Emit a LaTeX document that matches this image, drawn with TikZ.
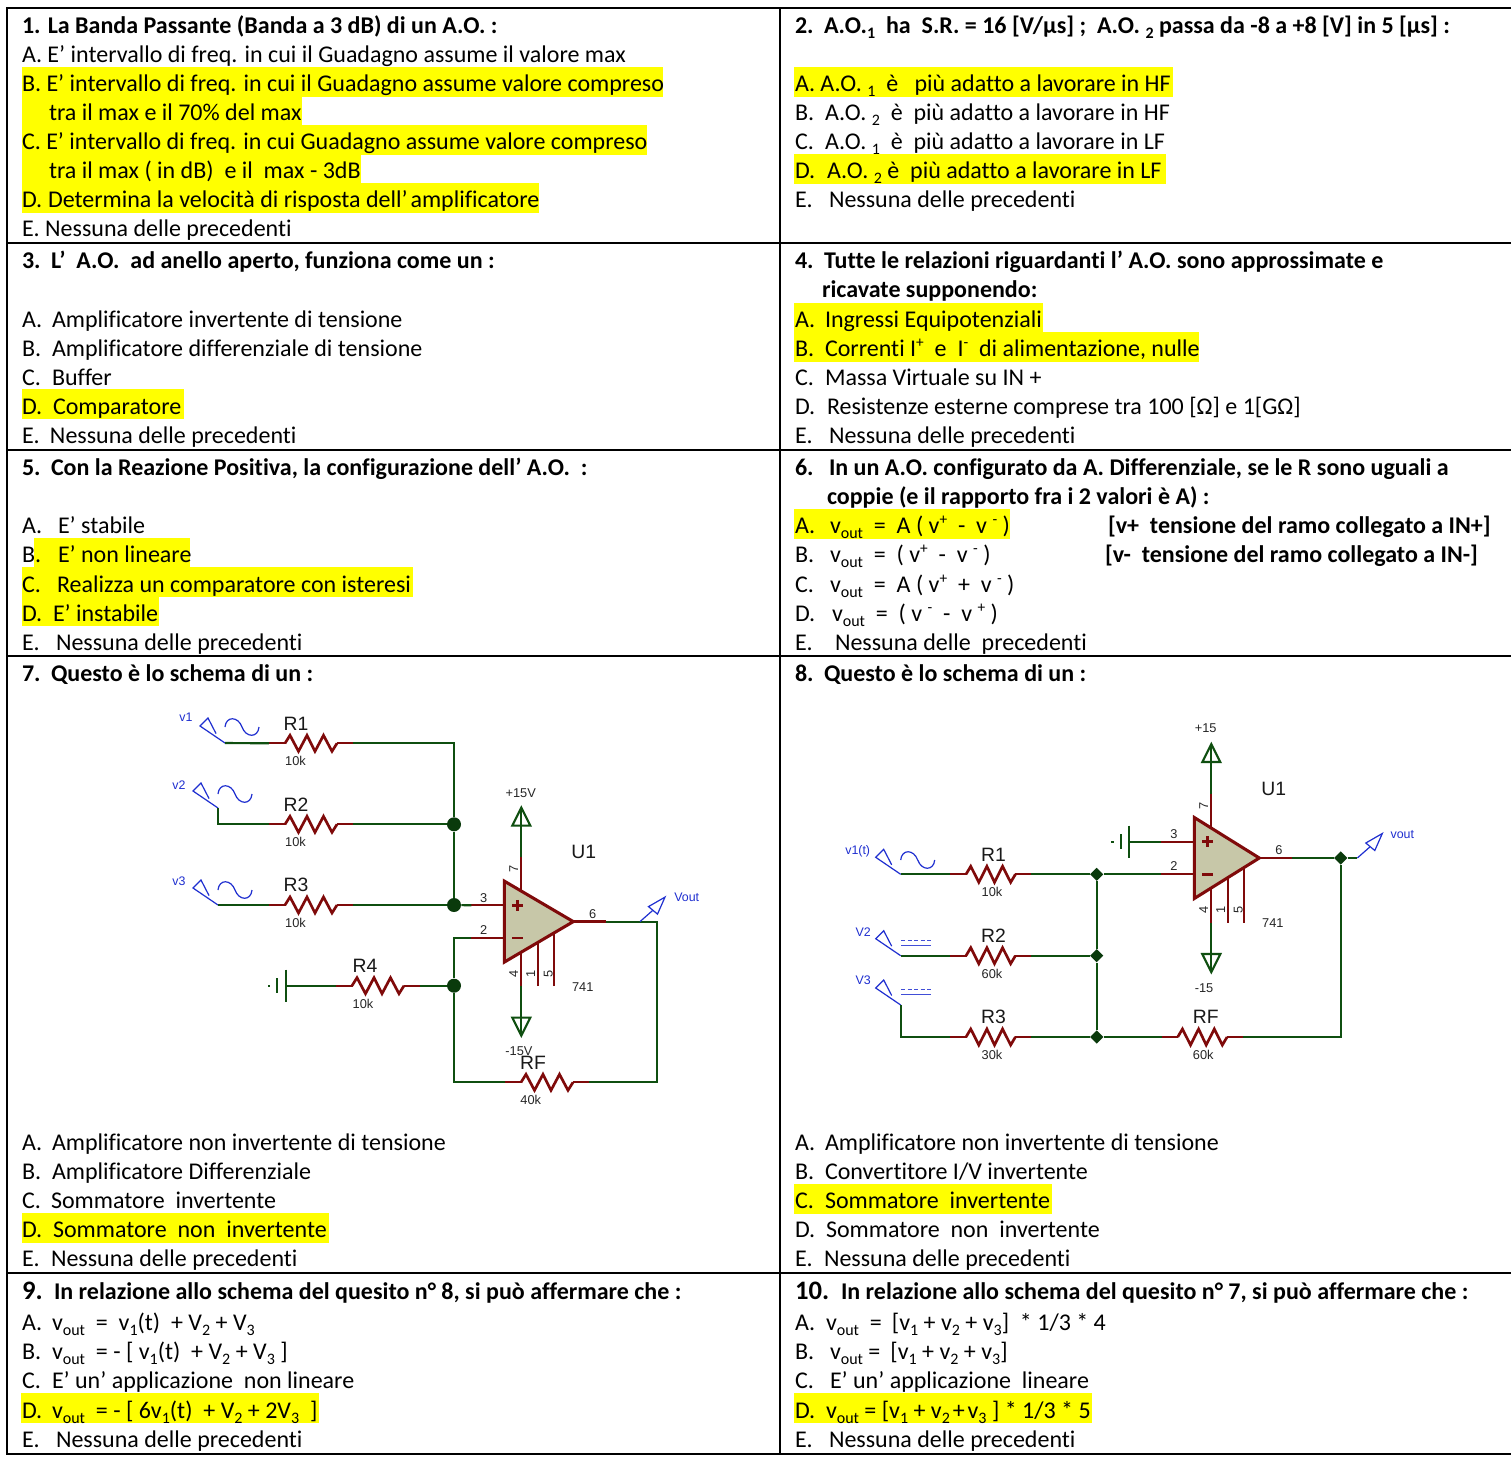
\documentclass[tikz,border=0pt]{standalone}
\usepackage{fontspec}
\usepackage{graphicx}
\setmainfont[Ligatures=NoCommon]{Carlito}
\newfontfamily\cirfont{Liberation Sans}
\usetikzlibrary{shapes.geometric}
\definecolor{wirec}{HTML}{0F4F10}
\definecolor{juncc}{HTML}{0A3A0C}
\definecolor{redc}{HTML}{7F0A0A}
\definecolor{bluec}{HTML}{1F2FD0}
\definecolor{opc}{HTML}{C7C7A8}
\definecolor{hlc}{HTML}{FFFF00}
\tikzset{
  txt/.style={anchor=base west,inner sep=0pt,outer sep=0pt,font=\fontsize{18}{20}\selectfont,text=black},
  txb/.style={txt,font=\fontsize{18}{20}\selectfont\bfseries},
  txB/.style={txt,font=\fontsize{20}{22}\selectfont\bfseries},
  grid/.style={line width=1.5pt,black},
  hlbar/.style={fill=hlc,draw=none},
  wire/.style={line width=1.6pt,wirec,line join=miter},
  redw/.style={line width=1.7pt,redc,line cap=butt},
  zig/.style={line width=2pt,redc,line join=miter},
  opbody/.style={line width=2.3pt,redc,fill=opc,line join=miter},
  bluew/.style={line width=.9pt,bluec,line join=miter},
  bigl/.style={inner sep=0pt,font=\cirfont\fontsize{14.5}{15}\selectfont,text=black!90},
  vall/.style={inner sep=0pt,font=\cirfont\fontsize{9.6}{10}\selectfont,text=black!85},
  blul/.style={inner sep=0pt,font=\cirfont\fontsize{9.3}{10}\selectfont,text=bluec},
  jdot/.style={circle,fill=juncc,inner sep=0pt,minimum size=10.5pt},
  jdia/.style={diamond,fill=juncc,inner sep=0pt,minimum size=10pt},
}
\newcounter{tn}
\newcommand\tline[4][txt]{\stepcounter{tn}\node[#1] (t\thetn) at (#2,#3+8.5) {#4};}
\newcommand\hlbar[3]{\fill[hlbar] (#1,#3-15.7) rectangle (#2,#3+14);}
\newcommand\sbs[1]{\raisebox{-.22em}{\fontsize{12}{13}\selectfont #1}}
\newcommand\sps[1]{\raisebox{.36em}{\fontsize{11.5}{13}\selectfont #1}}
\newcommand\vo{v\sbs{out}}
\newcommand\clab[4][vall]{\stepcounter{tn}\node[#1] (l\thetn) at (#2,#3) {#4};}
% resistor: name,x,y,K,label,labelrelx,value,valuerelx
\newcommand\resist[8]{%
  \coordinate (#1a) at (#2,#3);
  \coordinate (#1b) at ({#2+32+52*#4},#3);
  \draw[redw] (#1a) -- ++(16.5,0);
  \draw[redw] (#1b) -- ++(-16.5,0);
  \begin{scope}[shift={(#2+16,#3)},xscale=#4]
    \draw[zig] (0,0) -- (5,-8) -- (13.5,8) -- (22,-8) -- (30,8) -- (38.5,-8) -- (47,8) -- (52,0);
  \end{scope}
  \clab[bigl]{#2+#6}{#3-19.7}{#5}
  \clab[vall]{#2+#8}{#3+18}{#7}
}
% op amp: name,x,y,w
\newcommand\opamp[4]{%
  \coordinate (#1p) at (#2-33,#3-16.3);
  \coordinate (#1m) at (#2-33,#3+16.3);
  \coordinate (#1o) at (#2+#4+33,#3);
  \coordinate (#1vpa) at (#2+17,#3-64.5);
  \coordinate (#1vpt) at (#2+17,#3-114);
  \coordinate (#1vma) at (#2+17,#3+64.5);
  \coordinate (#1vmt) at (#2+17,#3+114);
  \draw[redw] (#1p) -- (#2,#3-16.3);
  \draw[redw] (#1m) -- (#2,#3+16.3);
  \draw[redw] (#1o) -- (#2+#4,#3);
  \draw[redw] (#1vpa) -- (#2+17,#3-30);
  \draw[redw] (#1vma) -- (#2+17,#3+30);
  \draw[redw] (#2+33.5,#3+64.5) -- (#2+33.5,#3+20);
  \draw[redw] (#2+50,#3+64.5) -- (#2+50,#3+10);
  \draw[opbody] (#2,#3-40.5) -- (#2,#3+40.5) -- (#2+#4,#3) -- cycle;
  \draw[redc,line width=2pt] (#2+8,#3-16.3) -- (#2+19,#3-16.3) (#2+13.5,#3-21.8) -- (#2+13.5,#3-10.8);
  \draw[redc,line width=2pt] (#2+8,#3+16.3) -- (#2+19,#3+16.3);
  \draw[wire] (#1vpa) -- (#1vpt);
  \draw[wire] (#1vma) -- (#1vmt);
  \draw[wire] (#2+8,#3-96) -- (#2+26,#3-96) -- (#1vpt) -- cycle;
  \draw[wire] (#2+8,#3+96) -- (#2+26,#3+96) -- (#1vmt) -- cycle;
  \clab[bigl]{#2+79.5}{#3-69.5}{U1}
  \clab{#2+78.5}{#3+65.5}{741}
  \clab{#2-20.5}{#3-24}{3}
  \clab{#2-20.5}{#3+8.5}{2}
  \clab{#2+#4+19.5}{#3-8}{6}
  \clab[vall,rotate=90]{#2+9.5}{#3-52.5}{7}
  \clab[vall,rotate=90]{#2+9.5}{#3+52}{4}
  \clab[vall,rotate=90]{#2+26.5}{#3+52}{1}
  \clab[vall,rotate=90]{#2+44}{#3+52}{5}
}
% signal source terminal: name,x,y,label,lx,ly
\newcommand\srcterm[6]{%
  \coordinate (#1) at (#2,#3);
  \begin{scope}[shift={(#2,#3)}]
    \draw[bluew] (0,0) -- (-25,-17) -- (-17,-25) -- (-9,-9.5);
  \end{scope}
  \clab[blul]{#2+#5}{#3+#6}{#4}
}
\newcommand\outterm[6]{%
  \coordinate (#1) at (#2,#3);
  \begin{scope}[shift={(#2,#3)}]
    \draw[bluew] (25,-24.5) -- (8.5,-15) -- (17.5,-7.5) -- cycle;
    \draw[bluew] (0,0) -- (12.5,-11);
  \end{scope}
  \clab[blul]{#2+#5}{#3+#6}{#4}
}
\newcommand\sinsym[2]{\begin{scope}[shift={(#1,#2)}]
  \draw[bluew] (0,0) .. controls (1,-11) and (13,-11) .. (17,0) .. controls (21,11) and (33,11) .. (34,0);
\end{scope}}
\newcommand\dcsym[2]{\begin{scope}[shift={(#1,#2)}]
  \draw[bluew,bluec!85] (0,0) -- (30,0);
  \draw[bluew,bluec!85,dash pattern=on 3pt off 1.875pt] (0,-5) -- (30,-5);
\end{scope}}
\newcommand\gnd[3]{%
  \coordinate (#1) at (#2,#3);
  \draw[wire] (#2,#3-16) -- (#2,#3+16);
  \draw[wire] (#2-8.4,#3-7.5) -- (#2-8.4,#3+7.5);
  \fill[wirec] (#2-18,#3-1.2) rectangle (#2-15.6,#3+1.2);
}
\begin{document}
\begin{tikzpicture}[x=0.75pt,y=-0.75pt]
\useasboundingbox (0,0) rectangle (1511,1461);
\fill[white] (0,0) rectangle (1511,1461);
% highlights
\hlbar{22}{663}{83}\hlbar{22}{302}{112.3}\hlbar{22}{647}{141}\hlbar{22}{361}{170}\hlbar{22}{539}{199}
\hlbar{794}{1173}{83}\hlbar{794}{1166}{170}
\hlbar{22}{184}{405}
\hlbar{794}{1043}{318.5}\hlbar{794}{1199}{347.5}
\hlbar{34}{190}{554}\hlbar{22}{413}{583}\hlbar{22}{159}{612.3}
\hlbar{794}{1010}{525}
\hlbar{22}{329}{1229}\hlbar{794}{1052}{1200}
\hlbar{21}{319}{1409}\hlbar{794}{1092}{1409}
% grid
\draw[grid] (7,8) -- (1511,8) (7,243) -- (1511,243) (7,450) -- (1511,450) (7,656) -- (1511,656) (7,1273) -- (1511,1273) (7,1454) -- (1511,1454);
\draw[grid] (7,7.2) -- (7,1454.8) (780,7.2) -- (780,1454.8);
% cell 1
\tline[txb]{22}{25}{1. La Banda Passante (Banda a 3 dB) di un A.O. :}
\tline{22}{54}{A. E’ intervallo di freq. in cui il Guadagno assume il valore max}
\tline{22}{83}{B. E’ intervallo di freq. in cui il Guadagno assume valore compreso}
\tline{49}{112}{tra il max e il 70\% del max}
\tline{22}{141}{C. E’ intervallo di freq. in cui Guadagno assume valore compreso}
\tline{49}{170}{tra il max ( in dB)~ e il~ max - 3dB}
\tline{22}{199}{D.}\tline{48}{199}{Determina la velocità di risposta dell’\hspace{.12em}amplificatore}
\tline{22}{228}{E. Nessuna delle precedenti}
% cell 2
\tline[txb]{795}{25}{2.}\tline[txb]{824}{25}{A.O.\sbs{1}~~ha~~S.R. = 16 [V/μs] ;~~A.O. \sbs{2} passa da -8 a +8 [V] in 5 [μs] :}
\tline{795}{83}{A. A.O. \sbs{1}~ è~~ più adatto a lavorare in HF}
\tline{795}{112}{B.}\tline{825}{112}{A.O. \sbs{2}~ è~ più adatto a lavorare in HF}
\tline{795}{141}{C.}\tline{825}{141}{A.O. \sbs{1}~ è~ più adatto a lavorare in LF}
\tline{795}{170}{D.}\tline{827}{170}{A.O. \sbs{2} è~ più adatto a lavorare in LF}
\tline{795}{199}{E.}\tline{829}{199}{Nessuna delle precedenti}
% cell 3
\tline[txb]{22}{260}{3.}\tline[txb]{51}{260}{L’~ A.O.~ ad anello aperto, funziona come un :}
\tline{22}{318.5}{A.}\tline{52}{318.5}{Amplificatore invertente di tensione}
\tline{22}{347.5}{B.}\tline{52}{347.5}{Amplificatore differenziale di tensione}
\tline{22}{376.5}{C.}\tline{52}{376.5}{Buffer}
\tline{22}{405.5}{D.}\tline{53}{405.5}{Comparatore}
\tline{22}{435}{E.}\tline{50}{435}{Nessuna delle precedenti}
% cell 4
\tline[txb]{795}{260}{4.}\tline[txb]{824}{260}{Tutte le relazioni riguardanti l’ A.O. sono approssimate e}
\tline[txb]{822}{289}{ricavate supponendo:}
\tline{795}{318.5}{A.}\tline{825}{318.5}{Ingressi Equipotenziali}
\tline{795}{347.5}{B.}\tline{825}{347.5}{Correnti I\sps{+}~ e~ I\sps{-}~ di alimentazione, nulle}
\tline{795}{376.5}{C.}\tline{825}{376.5}{Massa Virtuale su IN +}
\tline{795}{405.5}{D.}\tline{827}{405.5}{Resistenze esterne comprese tra 100 [Ω] e 1[GΩ]}
\tline{795}{435}{E.}\tline{829}{435}{Nessuna delle precedenti}
% cell 5
\tline[txb]{22}{467}{5.}\tline[txb]{51}{467}{Con la Reazione Positiva, la configurazione dell’ A.O.~ :}
\tline{22}{525}{A.}\tline{58}{525}{E’ stabile}
\tline{22}{554}{B.}\tline{58}{554}{E’ non lineare}
\tline{22}{583.5}{C.}\tline{57}{583.5}{Realizza un comparatore con isteresi}
\tline{22}{612.5}{D.}\tline{53}{612.5}{E’ instabile}
\tline{22}{642}{E.}\tline{56}{642}{Nessuna delle precedenti}
% cell 6
\tline[txb]{795}{467}{6.}\tline[txb]{829}{467}{In un A.O. configurato da A. Differenziale, se le R sono uguali a}
\tline[txb]{827}{496}{coppie (e il rapporto fra i 2 valori è A) :}
\tline{795}{525}{A.}\tline{830}{525}{\vo~ =~ A ( v\sps{+}~ -~ v \sps{-} )}
\tline[txb]{1108}{525}{[v+~ tensione del ramo collegato a IN+]}
\tline{795}{554}{B.}\tline{830}{554}{\vo~ =~ ( v\sps{+}~ -~ v \sps{-} )}
\tline[txb]{1105}{554}{[v-~ tensione del ramo collegato a IN-]}
\tline{795}{584}{C.}\tline{830}{584}{\vo~ =~ A ( v\sps{+}~ +~ v \sps{-} )}
\tline{795}{613}{D.}\tline{832}{613}{\vo~ =~ ( v \sps{-}~ -~ v \sps{+} )}
\tline{795}{642}{E.}\tline{835}{642}{Nessuna delle~ precedenti}
% cell 7
\tline[txb]{22}{672.5}{7.}\tline[txb]{51}{672.5}{Questo è lo schema di un :}
\tline{22}{1141.5}{A.}\tline{52}{1141.5}{Amplificatore non invertente di tensione}
\tline{22}{1170.5}{B.}\tline{52}{1170.5}{Amplificatore Differenziale}
\tline{22}{1200}{C.}\tline{51}{1200}{Sommatore~ invertente}
\tline{22}{1229}{D.}\tline{53}{1229}{Sommatore~ non~ invertente}
\tline{22}{1258}{E.}\tline{51}{1258}{Nessuna delle precedenti}
% cell 8
\tline[txb]{795}{672.5}{8.}\tline[txb]{824}{672.5}{Questo è lo schema di un :}
\tline{795}{1141.5}{A.}\tline{825}{1141.5}{Amplificatore non invertente di tensione}
\tline{795}{1170.5}{B.}\tline{825}{1170.5}{Convertitore I/V invertente}
\tline{795}{1200}{C.}\tline{825}{1200}{Sommatore~ invertente}
\tline{795}{1229}{D.}\tline{826}{1229}{Sommatore~ non~ invertente}
\tline{795}{1258}{E.}\tline{824}{1258}{Nessuna delle precedenti}
% cell 9
\tline[txB]{22}{1291}{9.}\tline[txb]{54}{1291}{In relazione allo schema del quesito n° 8, si può affermare che :}
\tline{22}{1322}{A.}\tline{52}{1322}{\vo~ =~ v\sbs{1}(t)~ + V\sbs{2} + V\sbs{3}}
\tline{22}{1351}{B.}\tline{52}{1351}{\vo~ = - [ v\sbs{1}(t)~ + V\sbs{2} + V\sbs{3} ]}
\tline{22}{1380}{C.}\tline{52}{1380}{E’ un’ applicazione~ non lineare}
\tline{22}{1409.5}{D.}\tline{52}{1409.5}{\vo~ = - [ 6v\sbs{1}(t)~ + V\sbs{2} + 2V\sbs{3}~ ]}
\tline{22}{1439}{E.}\tline{56}{1439}{Nessuna delle precedenti}
% cell 10
\tline[txB]{795}{1291}{10.}\tline[txb]{841}{1291}{In relazione allo schema del quesito n° 7, si può affermare che :}
\tline{795}{1322}{A.}\tline{826}{1322}{\vo~ =\hspace{.42em}[v\sbs{1} + v\sbs{2} + v\sbs{3}]~ * 1/3 * 4}
\tline{795}{1351}{B.}\tline{830}{1351}{\vo~=\hspace{.42em}[v\sbs{1} + v\sbs{2} + v\sbs{3}]}
\tline{795}{1380}{C.}\tline{830}{1380}{E’ un’ applicazione~ lineare}
\tline{795}{1409.5}{D.}\tline{826}{1409.5}{\vo~= [v\sbs{1} + v\sbs{2}\hspace{.12em}+\hspace{.12em}v\sbs{3} ] * 1/3 * 5}
\tline{795}{1439}{E.}\tline{829}{1439}{Nessuna delle precedenti}

% ============ circuit 7
\srcterm{aT1}{225}{743}{v1}{-39}{-26}
\srcterm{aT2}{218}{808}{v2}{-39}{-23}
\srcterm{aT3}{218}{905}{v3}{-39}{-24}
\sinsym{225}{727}\sinsym{218}{794}\sinsym{218}{890}
\resist{aR1}{269}{743.3}{1}{R1}{27}{10k}{26.5}
\resist{aR2}{269}{824.3}{1}{R2}{27}{10k}{26.5}
\resist{aR3}{269}{905}{1}{R3}{27}{10k}{26.5}
\resist{aR4}{336}{985.7}{1}{R4}{29}{10k}{27}
\resist{aRF}{505}{1082.3}{1}{RF}{28}{40k}{25.7}
\gnd{aG}{285.7}{985.7}
\opamp{aU}{504.3}{921.6}{69}
\clab{520.7}{792.7}{+15V}
\clab{519}{1050.7}{-15V}
\node[jdot] (aJ1) at (454,824.3) {};
\node[jdot] (aJ2) at (454,905) {};
\node[jdot] (aJ3) at (454,985.7) {};
\coordinate (aC) at (656.7,921.6);
\draw[wire] (aT1) -- (aR1a);
\draw[wire] (aT2) |- (aR2a);
\draw[wire] (aT3) -- (aR3a);
\draw[wire] (aR1b) -| (aJ1);
\draw[wire] (aR2b) -- (aJ1);
\draw[wire] (aR3b) -- (aJ2);
\draw[wire] (aJ1) -- (aJ2);
\draw[wire] (aJ2) -- (aUp);
\draw[wire] (aG) -- (aR4a);
\draw[wire] (aR4b) -- (aJ3);
\draw[wire] (aJ3) |- (aUm);
\draw[wire] (aJ3) |- (aRFa);
\draw[wire] (aRFb) -| (aC) -- (aUo);
\outterm{aTo}{640}{921.6}{Vout}{46.7}{-24.3}
% ============ circuit 8
\srcterm{bT1}{900.7}{874.3}{v1(t)}{-43}{-23}
\srcterm{bT2}{900.7}{955.7}{V2}{-37.4}{-24}
\srcterm{bT3}{900.7}{1005}{V3}{-37.4}{-24.3}
\sinsym{900.7}{860}
\dcsym{901}{945.7}\dcsym{901}{994.5}
\resist{bR1}{950}{874.3}{.95}{R1}{43.5}{10k}{42}
\resist{bR2}{950}{955.7}{.95}{R2}{43.5}{60k}{42}
\resist{bR3}{950}{1037}{.95}{R3}{43.5}{30k}{42}
\resist{bRF}{1161.7}{1037}{.95}{RF}{44}{60k}{41.6}
\gnd{bG}{1129.3}{841.7}
\opamp{bU}{1194.3}{858}{65}
\clab{1205.7}{728.3}{+15}
\clab{1204}{988.3}{-15}
\node[jdia] (bJ1) at (1096.7,874.3) {};
\node[jdia] (bJ2) at (1096.7,955.7) {};
\node[jdia] (bJ3) at (1096.7,1037) {};
\node[jdia] (bJ4) at (1340.7,858) {};
\coordinate (bTo) at (1357.3,858);
\draw[wire] (bT1) -- (bR1a);
\draw[wire] (bT2) -- (bR2a);
\draw[wire] (bT3) |- (bR3a);
\draw[wire] (bR1b) -- (bJ1);
\draw[wire] (bR2b) -- (bJ2);
\draw[wire] (bR3b) -- (bJ3);
\draw[wire] (bJ1) -- (bJ2);
\draw[wire] (bJ2) -- (bJ3);
\draw[wire] (bJ1) -- (bUm);
\draw[wire] (bG) -- (bUp);
\draw[wire] (bJ3) -- (bRFa);
\draw[wire] (bRFb) -| (bJ4);
\draw[wire] (bUo) -- (bJ4);
\draw[wire] (bJ4) -- (bTo);
\outterm{bTo2}{1357.3}{858}{vout}{45}{-23}
\end{tikzpicture}
\end{document}
